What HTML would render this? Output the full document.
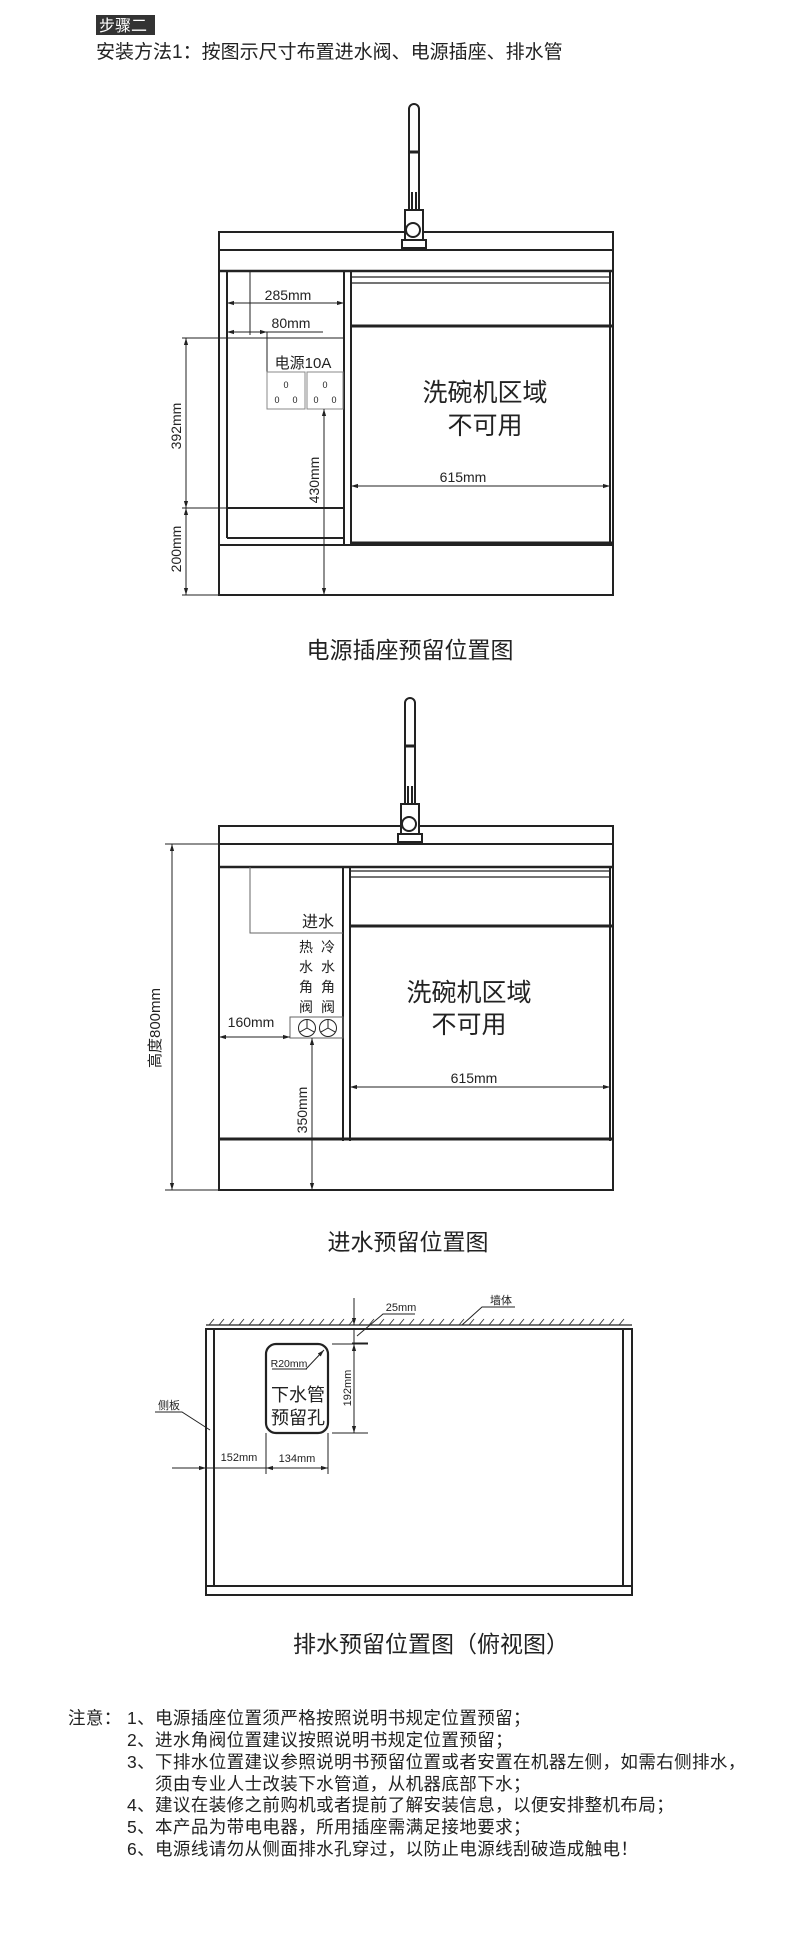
<!DOCTYPE html>
<html><head><meta charset="utf-8"><style>
html,body{margin:0;padding:0;background:#fff;}
svg{display:block;}
text{font-family:"Liberation Sans","Noto Sans CJK SC",sans-serif;fill:#222;}
</style></head><body>
<svg width="800" height="1940" viewBox="0 0 800 1940" xmlns="http://www.w3.org/2000/svg">
<defs>
<marker id="a" viewBox="0 0 10 10" refX="10" refY="5" markerWidth="7" markerHeight="7" orient="auto-start-reverse"><path d="M0,2 L10,5 L0,8 z" fill="#222"/></marker>
<g id="faucet" fill="#fff" stroke="#222" stroke-width="2">
<path d="M-5,128 V5 a5,5 0 0 1 10,0 V128"/>
<line x1="-5" y1="48" x2="5" y2="48" stroke-width="3"/>
<line x1="-2" y1="88" x2="-2" y2="112"/><line x1="2" y1="88" x2="2" y2="112"/>
<rect x="-9" y="106" width="18" height="32"/>
<circle cx="-1" cy="126" r="7"/>
<rect x="-12" y="136" width="24" height="8"/>
</g>
</defs>

<!-- Header -->
<rect x="96" y="15" width="59" height="20" fill="#333"/>
<text x="99" y="31" font-size="16" style="fill:#fff">步骤二</text>
<text x="96" y="58" font-size="19">安装方法1：按图示尺寸布置进水阀、电源插座、排水管</text>

<!-- ===== Diagram 1 ===== -->
<g fill="none" stroke="#222" stroke-width="2">
<rect x="219" y="232" width="394" height="363"/>
<line x1="219" y1="250" x2="613" y2="250"/>
<line x1="219" y1="271" x2="613" y2="271" stroke-width="2.5"/>
<line x1="227" y1="271" x2="227" y2="538"/>
<line x1="227" y1="538" x2="344" y2="538"/>
<line x1="344" y1="271" x2="344" y2="545"/>
<line x1="351" y1="271" x2="351" y2="545"/>
<line x1="351" y1="277" x2="610" y2="277" stroke-width="1.2"/>
<line x1="351" y1="283" x2="610" y2="283" stroke-width="1.2"/>
<line x1="351" y1="326" x2="613" y2="326" stroke-width="3"/>
<line x1="610" y1="271" x2="610" y2="545"/>
<line x1="351" y1="543" x2="613" y2="543" stroke-width="3"/>
<line x1="219" y1="545" x2="613" y2="545"/>
<line x1="227" y1="508" x2="344" y2="508"/>
</g>
<use href="#faucet" x="414" y="104"/>
<g stroke="#222" stroke-width="1" fill="none">
<line x1="227" y1="303" x2="344" y2="303" marker-start="url(#a)" marker-end="url(#a)"/>
<line x1="250" y1="271" x2="250" y2="335"/>
<line x1="227" y1="332" x2="250" y2="332" marker-start="url(#a)"/>
<line x1="250" y1="332" x2="267" y2="332" marker-end="url(#a)"/>
<line x1="250" y1="332" x2="323" y2="332"/>
<line x1="182" y1="338" x2="344" y2="338"/>
<line x1="267" y1="332" x2="267" y2="372"/>
<rect x="267" y="372" width="38" height="37" stroke="#888"/>
<rect x="307" y="372" width="36" height="37" stroke="#888"/>
<line x1="186" y1="338" x2="186" y2="508" marker-start="url(#a)" marker-end="url(#a)"/>
<line x1="182" y1="508" x2="344" y2="508"/>
<line x1="186" y1="508" x2="186" y2="595" marker-start="url(#a)" marker-end="url(#a)"/>
<line x1="182" y1="595" x2="219" y2="595"/>
<line x1="324" y1="409" x2="324" y2="595" marker-start="url(#a)" marker-end="url(#a)"/>
<line x1="351" y1="486" x2="610" y2="486" marker-start="url(#a)" marker-end="url(#a)"/>
</g>
<g font-size="9" text-anchor="middle">
<text x="286" y="388">0</text><text x="277" y="403">0</text><text x="295" y="403">0</text>
<text x="325" y="388">0</text><text x="316" y="403">0</text><text x="334" y="403">0</text>
</g>
<text x="288" y="300" font-size="14" text-anchor="middle">285mm</text>
<text x="291" y="328" font-size="14" text-anchor="middle">80mm</text>
<text x="303" y="368" font-size="15" text-anchor="middle">电源10A</text>
<text x="463" y="482" font-size="14" text-anchor="middle">615mm</text>
<text x="485" y="401" font-size="25" text-anchor="middle">洗碗机区域</text>
<text x="485" y="434" font-size="25" text-anchor="middle">不可用</text>
<text transform="translate(181,426) rotate(-90)" font-size="14" text-anchor="middle">392mm</text>
<text transform="translate(181,549) rotate(-90)" font-size="14" text-anchor="middle">200mm</text>
<text transform="translate(319,480) rotate(-90)" font-size="14" text-anchor="middle">430mm</text>
<text x="410" y="658" font-size="23" text-anchor="middle">电源插座预留位置图</text>

<!-- ===== Diagram 2 ===== -->
<g fill="none" stroke="#222" stroke-width="2">
<rect x="219" y="826" width="394" height="364"/>
<line x1="219" y1="844" x2="613" y2="844"/>
<line x1="219" y1="867" x2="613" y2="867" stroke-width="2.5"/>
<line x1="343" y1="867" x2="343" y2="1141"/>
<line x1="350" y1="867" x2="350" y2="1141"/>
<line x1="350" y1="871" x2="610" y2="871" stroke-width="1.2"/>
<line x1="350" y1="877" x2="610" y2="877" stroke-width="1.2"/>
<line x1="350" y1="926" x2="613" y2="926" stroke-width="3"/>
<line x1="610" y1="867" x2="610" y2="1141"/>
<line x1="219" y1="1139" x2="613" y2="1139" stroke-width="3"/>
</g>
<use href="#faucet" x="410" y="698"/>
<g stroke="#222" stroke-width="1" fill="none">
<path d="M250,867 V933 H343" stroke="#666"/>
<rect x="290" y="1017" width="53" height="21" stroke="#666"/>
<circle cx="307" cy="1028" r="8.5"/><circle cx="328" cy="1028" r="8.5"/>
<path d="M307,1028 V1019.5 M307,1028 L299.6,1032.2 M307,1028 L314.4,1032.2"/>
<path d="M328,1028 V1019.5 M328,1028 L320.6,1032.2 M328,1028 L335.4,1032.2"/>
<line x1="219" y1="1037" x2="290" y2="1037" marker-start="url(#a)" marker-end="url(#a)"/>
<line x1="312" y1="1038" x2="312" y2="1190" marker-start="url(#a)" marker-end="url(#a)"/>
<line x1="172" y1="844" x2="172" y2="1190" marker-start="url(#a)" marker-end="url(#a)"/>
<line x1="165" y1="844" x2="219" y2="844"/>
<line x1="165" y1="1190" x2="219" y2="1190"/>
<line x1="350" y1="1087" x2="610" y2="1087" marker-start="url(#a)" marker-end="url(#a)"/>
</g>
<text x="318" y="927" font-size="16" text-anchor="middle">进水</text>
<g font-size="14" text-anchor="middle">
<text x="306" y="952">热</text><text x="306" y="972">水</text><text x="306" y="992">角</text><text x="306" y="1012">阀</text>
<text x="328" y="952">冷</text><text x="328" y="972">水</text><text x="328" y="992">角</text><text x="328" y="1012">阀</text>
</g>
<text x="251" y="1027" font-size="14" text-anchor="middle">160mm</text>
<text x="474" y="1083" font-size="14" text-anchor="middle">615mm</text>
<text x="469" y="1001" font-size="25" text-anchor="middle">洗碗机区域</text>
<text x="469" y="1033" font-size="25" text-anchor="middle">不可用</text>
<text transform="translate(307,1110) rotate(-90)" font-size="14" text-anchor="middle">350mm</text>
<text transform="translate(160,1028) rotate(-90)" font-size="15" text-anchor="middle">高度800mm</text>
<text x="408" y="1250" font-size="23" text-anchor="middle">进水预留位置图</text>

<!-- ===== Diagram 3 ===== -->
<g fill="none" stroke="#222" stroke-width="2">
<rect x="206" y="1329" width="426" height="266"/>
<line x1="214" y1="1329" x2="214" y2="1586"/>
<line x1="623" y1="1329" x2="623" y2="1586"/>
<line x1="206" y1="1586" x2="632" y2="1586"/>
<line x1="206" y1="1325" x2="632" y2="1325" stroke-width="1.2"/>
<rect x="266" y="1344" width="62" height="89" rx="10" stroke-width="2.2"/>
</g>
<path d="M209,1325 l5,-6 M219,1325 l5,-6 M229,1325 l5,-6 M239,1325 l5,-6 M249,1325 l5,-6 M259,1325 l5,-6 M269,1325 l5,-6 M279,1325 l5,-6 M289,1325 l5,-6 M299,1325 l5,-6 M309,1325 l5,-6 M319,1325 l5,-6 M329,1325 l5,-6 M339,1325 l5,-6 M349,1325 l5,-6 M359,1325 l5,-6 M369,1325 l5,-6 M379,1325 l5,-6 M389,1325 l5,-6 M399,1325 l5,-6 M409,1325 l5,-6 M419,1325 l5,-6 M429,1325 l5,-6 M439,1325 l5,-6 M449,1325 l5,-6 M459,1325 l5,-6 M469,1325 l5,-6 M479,1325 l5,-6 M489,1325 l5,-6 M499,1325 l5,-6 M509,1325 l5,-6 M519,1325 l5,-6 M529,1325 l5,-6 M539,1325 l5,-6 M549,1325 l5,-6 M559,1325 l5,-6 M569,1325 l5,-6 M579,1325 l5,-6 M589,1325 l5,-6 M599,1325 l5,-6 M609,1325 l5,-6 M619,1325 l5,-6" stroke="#333" stroke-width="0.9" fill="none"/>
<g stroke="#222" stroke-width="1" fill="none">
<line x1="354" y1="1298" x2="354" y2="1325" marker-end="url(#a)"/>
<line x1="354" y1="1329" x2="354" y2="1343"/>
<line x1="352" y1="1343" x2="368" y2="1343"/>
<path d="M357,1336 L383,1314 H415"/>
<path d="M462,1325 L482,1307 H515"/>
<line x1="332" y1="1344" x2="368" y2="1344"/>
<line x1="354" y1="1344" x2="354" y2="1433" marker-start="url(#a)" marker-end="url(#a)"/>
<line x1="332" y1="1433" x2="368" y2="1433"/>
<path d="M155,1412 H182 L210,1430"/>
<line x1="172" y1="1468" x2="206" y2="1468" marker-end="url(#a)"/>
<line x1="206" y1="1468" x2="266" y2="1468"/>
<line x1="266" y1="1468" x2="328" y2="1468" marker-start="url(#a)" marker-end="url(#a)"/>
<line x1="266" y1="1433" x2="266" y2="1474"/>
<line x1="328" y1="1433" x2="328" y2="1474"/>
<line x1="306" y1="1369" x2="324" y2="1350" marker-end="url(#a)"/>
<line x1="272" y1="1369" x2="307" y2="1369"/>
</g>
<text x="401" y="1311" font-size="11" text-anchor="middle">25mm</text>
<text x="501" y="1304" font-size="11" text-anchor="middle">墙体</text>
<text x="169" y="1409" font-size="11" text-anchor="middle">侧板</text>
<text x="289" y="1367" font-size="10.5" text-anchor="middle">R20mm</text>
<text x="298" y="1401" font-size="18" text-anchor="middle">下水管</text>
<text x="298" y="1424" font-size="18" text-anchor="middle">预留孔</text>
<text transform="translate(351,1388) rotate(-90)" font-size="11" text-anchor="middle">192mm</text>
<text x="239" y="1461" font-size="11" text-anchor="middle">152mm</text>
<text x="297" y="1462" font-size="11" text-anchor="middle">134mm</text>
<text x="431" y="1652" font-size="23" text-anchor="middle">排水预留位置图（俯视图）</text>

<!-- Notes -->
<g font-size="17.5" letter-spacing="0.4">
<text x="68" y="1724">注意：</text>
<text x="127" y="1724">1、电源插座位置须严格按照说明书规定位置预留；</text>
<text x="127" y="1746">2、进水角阀位置建议按照说明书规定位置预留；</text>
<text x="127" y="1768">3、下排水位置建议参照说明书预留位置或者安置在机器左侧，如需右侧排水，</text>
<text x="155" y="1790">须由专业人士改装下水管道，从机器底部下水；</text>
<text x="127" y="1811">4、建议在装修之前购机或者提前了解安装信息，以便安排整机布局；</text>
<text x="127" y="1833">5、本产品为带电电器，所用插座需满足接地要求；</text>
<text x="127" y="1855">6、电源线请勿从侧面排水孔穿过，以防止电源线刮破造成触电！</text>
</g>
</svg>
</body></html>
